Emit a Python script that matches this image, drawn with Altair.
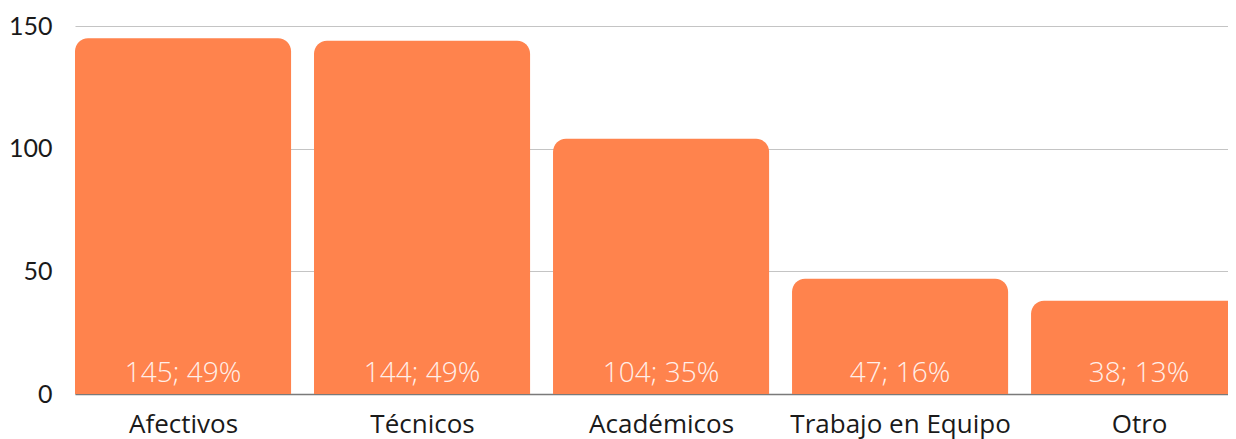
import altair as alt
import pandas as pd

categories = ["Afectivos", "Técnicos", "Académicos", "Trabajo en Equipo", "Otro"]
values = [145, 144, 104, 47, 38]
percents = ["49%", "49%", "35%", "16%", "13%"]

BAR = 0.904  # bar width as a fraction of a slot

df = pd.DataFrame({"cat": categories, "val": values, "pct": percents,
                   "pos": list(range(len(categories)))})
df["label"] = df["val"].astype(str) + "; " + df["pct"]

yscale = alt.Scale(domain=[0, 150], nice=False)
xscale = alt.Scale(domain=[0, 4.824], nice=False, zero=False, padding=0)

cat_array = "[" + ",".join("'" + c + "'" for c in categories) + "]"
centers = [i + BAR / 2 for i in range(len(categories))]

x_axis = alt.Axis(values=centers, grid=False, ticks=False,
                  labelExpr=f"{cat_array}[round(datum.value - {BAR / 2})]",
                  labelFont="Open Sans", labelFontSize=26, labelColor="#1a1a1a",
                  labelPadding=17, labelLimit=0, labelFlush=False, labelOverlap=False,
                  domainColor="#7a7a7a", domainWidth=1.5)
y_axis = alt.Axis(values=[0, 50, 100, 150], labelFont="Lato", labelFontSize=25,
                  labelColor="#1a1a1a", labelPadding=23, ticks=False, domain=False,
                  gridColor="#c4c4c4", gridWidth=1.2)

base = alt.Chart(df).transform_calculate(
    x1="datum.pos", x2=f"datum.pos + {BAR}", xc=f"datum.pos + {BAR / 2}", zero="0"
)

bars = base.mark_bar(color="#FF834D", cornerRadiusTopLeft=13, cornerRadiusTopRight=13,
                     clip=True, orient="vertical").encode(
    x=alt.X("x1:Q", scale=xscale, axis=x_axis, title=None),
    x2="x2:Q",
    y=alt.Y("val:Q", scale=yscale, axis=y_axis, title=None),
    y2="zero:Q",
)

text = base.mark_text(font="Open Sans", fontSize=28, fontWeight=300,
                      color="#FFFFFF", opacity=0.88,
                      baseline="alphabetic", dy=-12).encode(
    x=alt.X("xc:Q", scale=xscale, title=None),
    y=alt.Y("zero:Q", scale=yscale, title=None),
    text="label:N",
)

chart = alt.layer(bars, text).properties(
    width=1153, height=368,
    autosize=alt.AutoSizeParams(type="none"),
    padding={"left": 67, "top": 18, "right": 0, "bottom": 50},
).configure_view(stroke=None)

chart.save("out.html", embed_options={"renderer": "svg", "actions": False})
